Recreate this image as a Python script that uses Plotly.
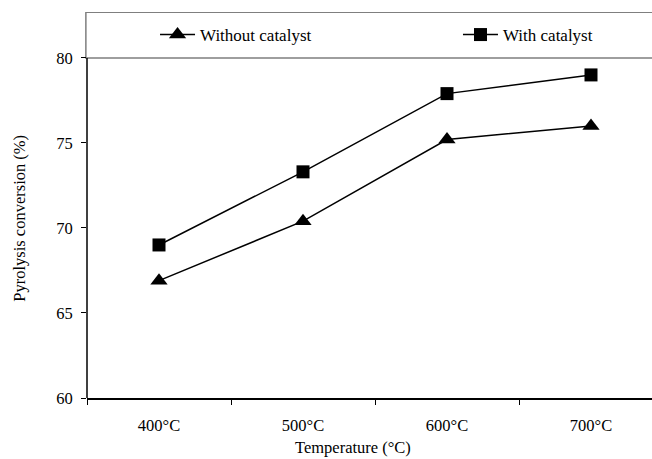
import plotly.graph_objects as go

categories = ["400°C", "500°C", "600°C", "700°C"]
without_catalyst = [66.9, 70.4, 75.2, 76.0]
with_catalyst = [69.0, 73.3, 77.9, 79.0]
y_ticks = [60, 65, 70, 75, 80]

FONT = "Liberation Serif"
xs = list(range(len(categories)))

fig = go.Figure()
fig.add_trace(go.Scatter(
    x=xs, y=without_catalyst, name="Without catalyst", mode="lines+markers",
    line=dict(color="black", width=1.5),
    marker=dict(symbol="triangle-up", size=15, color="black"),
    legend="legend",
))
fig.add_trace(go.Scatter(
    x=xs, y=with_catalyst, name="With catalyst", mode="lines+markers",
    line=dict(color="black", width=1.5),
    marker=dict(symbol="square", size=13, color="black"),
    legend="legend2",
))

legend_common = dict(
    orientation="h", yanchor="middle", xanchor="left",
    font=dict(family=FONT, size=17), bgcolor="rgba(0,0,0,0)",
    itemwidth=35,
)

fig.update_layout(
    width=652, height=459,
    margin=dict(l=87, r=0, t=12, b=61),
    paper_bgcolor="white", plot_bgcolor="white",
    font=dict(family=FONT, size=16, color="black"),
    legend=dict(x=0.1204, y=0.9404, **legend_common),
    legend2=dict(x=0.6566, y=0.9404, **legend_common),
    xaxis=dict(
        range=[-0.5, 3.4236], tickmode="array", tickvals=xs, ticktext=categories,
        ticks="", showgrid=False, zeroline=False,
        showline=True, linecolor="black", linewidth=1.5,
        ticklabelstandoff=11,
        minor=dict(tickmode="array", tickvals=[-0.5, 0.5, 1.5, 2.5],
                   ticks="outside", ticklen=5, tickcolor="black", tickwidth=1.2,
                   showgrid=False),
        tickfont=dict(family=FONT, size=16.5),
    ),
    yaxis=dict(
        range=[60, 82.7], tickmode="array", tickvals=y_ticks,
        ticks="outside", ticklen=5, tickcolor="black", tickwidth=1.2,
        showgrid=False, zeroline=False, showline=False,
        ticklabelstandoff=5,
        tickfont=dict(family=FONT, size=16.5),
    ),
    showlegend=True,
)

# y axis line (only up to 80)
fig.add_shape(type="line", xref="paper", yref="y", x0=0, x1=0, y0=60, y1=80,
              line=dict(color="black", width=1.5))
# legend box across the top
fig.add_shape(type="rect", xref="paper", yref="y", x0=-0.002, x1=1.05, y0=80, y1=82.68,
              line=dict(color="#7f7f7f", width=1.5), layer="below")

fig.add_annotation(text="Temperature (°C)", xref="x", yref="paper", x=1.346, y=-0.127,
                   showarrow=False, xanchor="center", yanchor="middle",
                   font=dict(family=FONT, size=16.5))
fig.add_annotation(text="Pyrolysis conversion (%)", xref="paper", yref="y", x=-0.1186, y=70.6,
                   textangle=-90, showarrow=False, xanchor="center", yanchor="middle",
                   font=dict(family=FONT, size=16.5))

fig.write_html("out.html", config={"displayModeBar": False},
               post_script="document.body.style.margin='0px';")
